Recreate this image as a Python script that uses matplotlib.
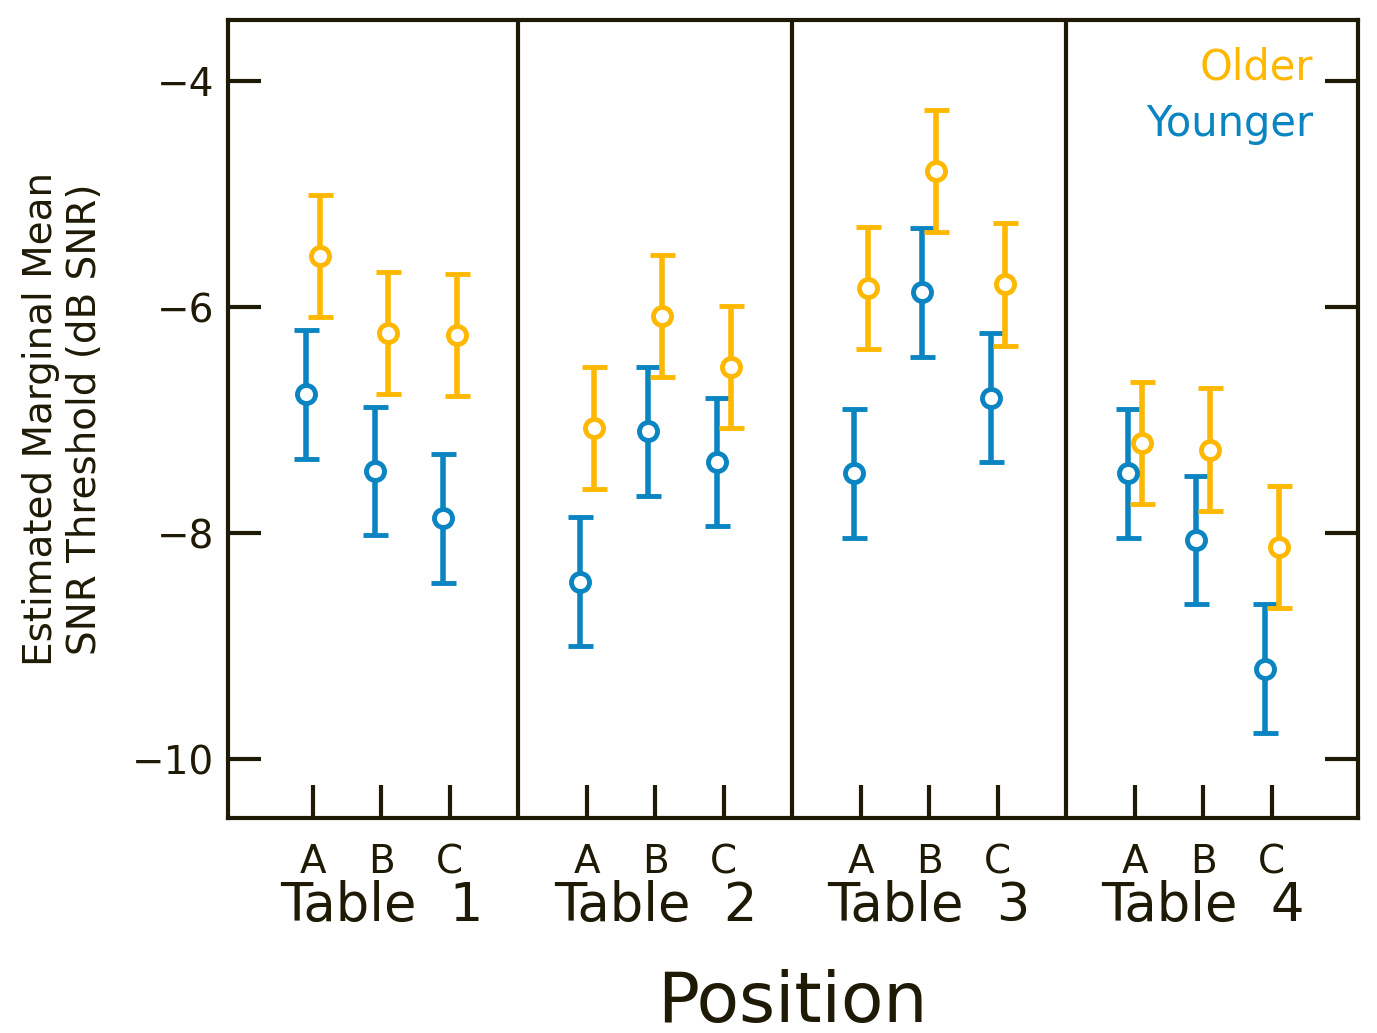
import matplotlib
matplotlib.use("Agg")
import matplotlib.pyplot as plt
import numpy as np

tables = ["Table  1", "Table  2", "Table  3", "Table  4"]
positions = ["A", "B", "C"]
younger = [-6.77, -7.45, -7.87, -8.43, -7.10, -7.37, -7.47, -5.87, -6.80, -7.47, -8.06, -9.20]
older = [-5.55, -6.23, -6.25, -7.07, -6.08, -6.53, -5.83, -4.80, -5.80, -7.20, -7.26, -8.12]
err_young = [0.57] * 12
err_old = [0.54] * 12

c_old = "#FFB800"
c_young = "#0A85C2"
ink = "#1E1A05"

fig = plt.figure(figsize=(13.77, 10.33), dpi=100)
ax = fig.add_axes([228/1377, 1-818/1033, 1130/1377, 798/1033])
x = np.array([4*t + i for t in range(4) for i in range(3)], dtype=float)
ax.errorbar(x - 0.1, younger, yerr=err_young, fmt='o', color=c_young, mfc='white', mec=c_young,
            ms=13, mew=3.5, elinewidth=4, capsize=9, capthick=4, zorder=3)
ax.errorbar(x + 0.1, older, yerr=err_old, fmt='o', color=c_old, mfc='white', mec=c_old,
            ms=13, mew=3.5, elinewidth=4, capsize=9, capthick=4, zorder=3)
for d in [3, 7, 11]:
    ax.axvline(d, color=ink, lw=3)
ax.set_xlim(-1.24, 15.26)
ax.set_ylim(-10.52, -3.46)
ax.set_xticks(x)
ax.set_xticklabels(positions * 4, fontsize=28, color=ink)
ax.set_yticks([-10, -8, -6, -4])
ax.set_yticklabels(["\u221210", "\u22128", "\u22126", "\u22124"], fontsize=28, color=ink)
ax.tick_params(axis='both', direction='in', length=24, width=3, color=ink, right=True, pad=10)
ax.tick_params(axis='x', pad=18)
for s in ax.spines.values():
    s.set_linewidth(3); s.set_color(ink)
for t in range(4):
    ax.text(4*t + 1, -11.3, tables[t], ha='center', va='center', fontsize=38, color=ink)
ax.text(7, -12.15, "Position", ha='center', va='center', fontsize=50, color=ink)
ax.set_ylabel("Estimated Marginal Mean\nSNR Threshold (dB SNR)", fontsize=28, color=ink, labelpad=20)
ax.text(0.96, 0.94, "Older", transform=ax.transAxes, ha='right', va='center', fontsize=30, color=c_old)
ax.text(0.96, 0.87, "Younger", transform=ax.transAxes, ha='right', va='center', fontsize=30, color=c_young)
fig.savefig("out.png", dpi=100)
